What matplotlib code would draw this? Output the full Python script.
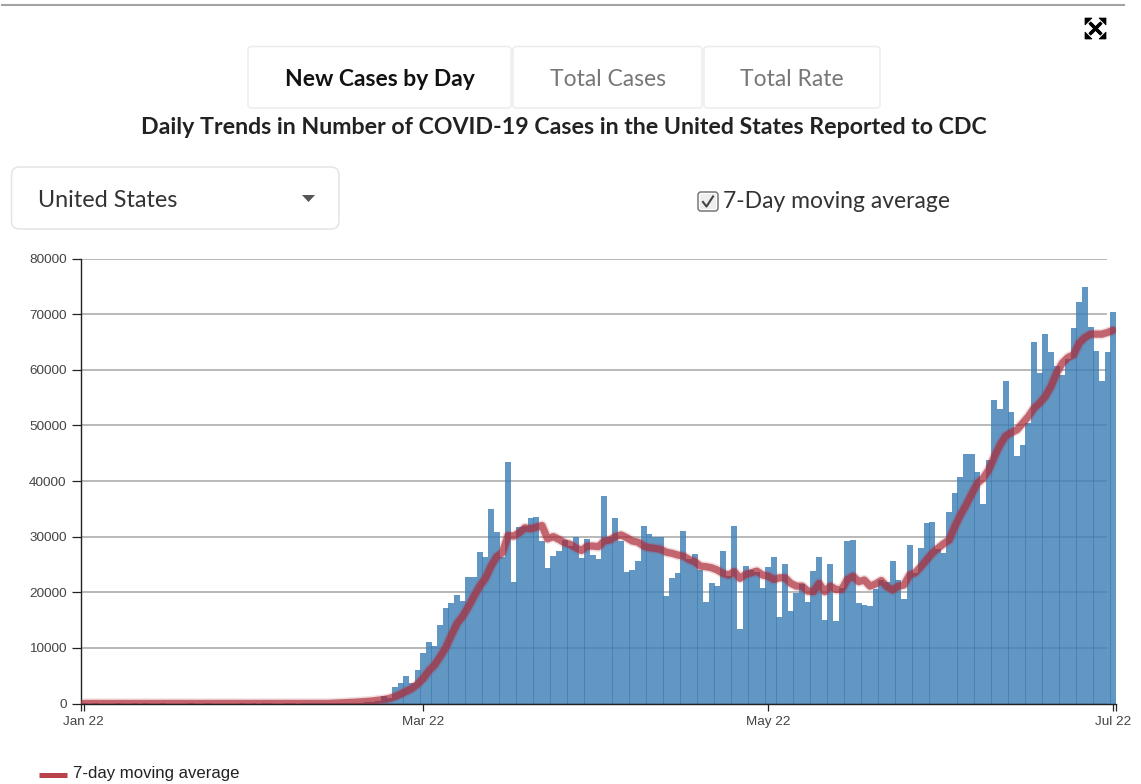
#!/usr/bin/env python
import matplotlib as mpl
mpl.use('Agg')
import matplotlib.pyplot as plt
from matplotlib.patches import FancyBboxPatch, Polygon, Rectangle
import numpy as np

W, H = 1141, 784

new_cases = [
    1, 0, 1, 0, 0, 0, 1, 0, 0, 1,
    0, 1, 0, 0, 1, 0, 0, 0, 0, 1,
    0, 0, 1, 0, 0, 0, 0, 0, 1, 0,
    8, 0, 3, 14, 0, 0, 20, 2, 0, 5,
    12, 9, 6, 20, 30, 40, 60, 50, 70, 110,
    190, 230, 400, 1260, 900, 2900, 3600, 4900, 3600, 6000,
    8990, 11000, 10300, 14100, 17100, 18000, 19500, 18400, 22700, 22700,
    27200, 26300, 34900, 30800, 26400, 43500, 21800, 31700, 31900, 33300,
    33500, 29300, 24300, 26500, 27400, 29400, 28400, 30000, 26100, 29500,
    26700, 25900, 37300, 29900, 33300, 29300, 23600, 23960, 25600, 31900,
    30400, 29900, 29900, 19300, 22500, 23400, 31000, 26000, 26800, 24000,
    18200, 21600, 21100, 27400, 23000, 32000, 13400, 24700, 24000, 23600,
    20700, 24500, 26300, 15500, 25000, 16600, 19900, 21400, 18200, 23800,
    26300, 15000, 25000, 14800, 20700, 29200, 29400, 18000, 17700, 17500,
    20600, 22200, 21900, 25600, 22200, 18800, 28500, 23400, 28000, 32500,
    32600, 27700, 27000, 34400, 37900, 40700, 44900, 44900, 41600, 35900,
    43800, 54600, 53000, 58000, 52400, 44500, 46500, 50500, 65000, 59400,
    66400, 63200, 60700, 59100, 62000, 67500, 72200, 74900, 67700, 63400,
    58000, 63200, 70400]

moving_avg = [
    1, 1, 1, 1, 1, 1, 1, 1, 1, 1,
    1, 1, 1, 1, 1, 1, 1, 1, 1, 1,
    1, 1, 1, 1, 1, 1, 1, 1, 1, 1,
    3, 3, 4, 5, 5, 5, 6, 7, 7, 8,
    10, 12, 13, 15, 50, 110, 150, 190, 240, 310,
    380, 450, 580, 720, 900, 1250, 1680, 2200, 2700, 3470,
    4490, 5870, 6900, 8400, 10060, 12280, 14400, 15700, 17400, 19300,
    21100, 22500, 24700, 26400, 27100, 30200, 30100, 30700, 31600, 31400,
    31700, 32000, 29600, 30000, 29500, 28900, 28600, 28000, 27500, 28300,
    28300, 28200, 29200, 29400, 30000, 30300, 29800, 29200, 29000, 28300,
    28000, 27900, 27700, 27200, 27000, 26700, 26500, 25900, 25500, 24700,
    24600, 24400, 24000, 23400, 23100, 23700, 22500, 23200, 23500, 23800,
    23100, 22900, 22300, 22600, 22600, 21600, 21100, 21100, 20200, 20100,
    21600, 20100, 21100, 20500, 20500, 22300, 22900, 21900, 22200, 21100,
    21500, 22100, 21000, 20400, 21100, 21300, 23100, 23500, 24600, 25800,
    27000, 27900, 28700, 29400, 31800, 33900, 35700, 37700, 39600, 40500,
    42000, 44400, 46500, 48100, 48700, 49200, 50400, 51600, 53100, 54000,
    55200, 57000, 59400, 61200, 62200, 62700, 64800, 65800, 66400, 66400,
    66400, 66700, 67100]

y_ticks = [0, 10000, 20000, 30000, 40000, 50000, 60000, 70000, 80000]
x_tick_days = [0, 60, 121, 182]
x_tick_labels = ['Jan 22', 'Mar 22', 'May 22', 'Jul 22']
tab_labels = ['New Cases by Day', 'Total Cases', 'Total Rate']

BAR = '#3f7fb6'
LINE = '#ad2c38'
UI_FONT = 'Lato'
AXIS_FONT = 'Liberation Sans'


def rounded_box(ax, x0, y0, x1, y1, radius, edge):
    box = FancyBboxPatch((x0 + radius, y0 + radius), x1 - x0 - 2 * radius,
                         y1 - y0 - 2 * radius,
                         boxstyle='round,pad=%g,rounding_size=%g' % (radius, radius),
                         fc='white', ec=edge, lw=1.1)
    ax.add_patch(box)


def draw_page(ax):
    """
    Tabs, title, dropdown, checkbox and the rest of the page around the chart
    """
    ax.plot([2, 1124], [5, 5], color='#a3a3a3', lw=1.5)

    # expand icon
    cx, cy = 1095.5, 28.5
    for sx, sy in [(-1, -1), (1, -1), (-1, 1), (1, 1)]:
        ax.plot([cx - 5 * sx, cx + 6 * sx], [cy - 5 * sy, cy + 6 * sy],
                color='black', lw=2.4, solid_capstyle='butt')
        ax.add_patch(Polygon([(cx + 10.5 * sx, cy + 10.5 * sy),
                              (cx + 3.5 * sx, cy + 10.5 * sy),
                              (cx + 10.5 * sx, cy + 3.5 * sy)], fc='black', ec='black', lw=0.5))

    tab_edges = [(248, 511), (513, 702), (704, 880)]
    tab_colors = ['#111111', '#777777', '#777777']
    tab_weights = ['bold', 'normal', 'normal']
    for (x0, x1), label, c, wt in zip(tab_edges, tab_labels, tab_colors, tab_weights):
        rounded_box(ax, x0, 46.5, x1, 108, 3, '#ececec')
        ax.text((x0 + x1) / 2, 79, label, ha='center', va='center', color=c,
                fontsize=16.5, fontweight=wt, family=UI_FONT)

    ax.text(563.5, 127.5, 'Daily Trends in Number of COVID-19 Cases in the United States Reported to CDC',
            ha='center', va='center', color='#222222', fontsize=16.7, fontweight='bold',
            family=UI_FONT)

    rounded_box(ax, 11.5, 167, 339, 229, 8, '#e4e4e4')
    ax.text(38, 200, 'United States', ha='left', va='center', color='#333333',
            fontsize=16.8, family=UI_FONT)
    ax.add_patch(Polygon([(302, 195), (315, 195), (308.5, 202)], fc='#555555', ec='none'))

    # checkbox
    rounded_box(ax, 698, 192, 718, 211, 3, '#777777')
    ax.add_patch(Rectangle((700, 194), 16, 15, fc='#eeeeee', ec='none'))
    ax.plot([703, 706.5, 713], [202, 206.5, 196.5], color='#444444', lw=1.5)
    ax.text(723, 201, '7-Day moving average', ha='left', va='center', color='#333333',
            fontsize=16.5, family=UI_FONT)

    # legend
    ax.plot([39, 67], [774.7, 774.7], color='#b8434b', lw=3.6, solid_capstyle='butt')
    ax.text(73, 773.5, '7-day moving average', ha='left', va='center', color='#222222',
            fontsize=12.1, family=AXIS_FONT)


def plot_trend(ax):
    days = np.arange(len(new_cases))

    ax.hlines(y_ticks, -0.5, 180.9, color='#adadad', lw=1.2, zorder=1)
    ax.bar(days, new_cases, width=1.06, color=BAR, alpha=0.82, lw=0, zorder=2)
    ax.plot(days, moving_avg, color=LINE, lw=7.4, alpha=0.16, zorder=3,
            solid_capstyle='round', solid_joinstyle='round')
    ax.plot(days, moving_avg, color=LINE, lw=5.2, alpha=0.68, zorder=4,
            solid_capstyle='round', solid_joinstyle='round')

    ax.set_xlim(-0.5, 182.5)
    ax.set_ylim(0, 80000)
    ax.set_yticks(y_ticks)
    ax.set_xticks(x_tick_days)
    ax.set_xticklabels(x_tick_labels)
    ax.set_xticks([-0.5, 182.5], minor=True)
    ax.tick_params(axis='x', which='both', length=5.2, width=0.9, color='#222222')
    ax.tick_params(axis='y', which='both', length=6.3, width=0.9, color='#222222')
    ax.tick_params(axis='both', which='major', labelsize=9.7, labelcolor='#444444')
    ax.tick_params(axis='y', which='major', pad=4)
    ax.tick_params(axis='x', which='major', pad=3.5)
    for label in ax.get_xticklabels() + ax.get_yticklabels():
        label.set_family(AXIS_FONT)

    ax.spines['top'].set_visible(False)
    ax.spines['right'].set_visible(False)
    ax.spines['left'].set_linewidth(1.0)
    ax.spines['bottom'].set_linewidth(1.0)
    ax.spines['left'].set_color('#222222')
    ax.spines['bottom'].set_color('#222222')
    ax.patch.set_alpha(0)


def main():
    fig = plt.figure(figsize=(W / 100., H / 100.), dpi=100, facecolor='white')

    page = fig.add_axes([0, 0, 1, 1])
    page.set_xlim(0, W)
    page.set_ylim(H, 0)
    page.axis('off')
    draw_page(page)

    left, right, top, bottom = 81., 1116., 258.5, 703.5
    ax = fig.add_axes([left / W, 1 - bottom / H, (right - left) / W, (bottom - top) / H])
    plot_trend(ax)

    fig.savefig('out.png', dpi=100)


main()
